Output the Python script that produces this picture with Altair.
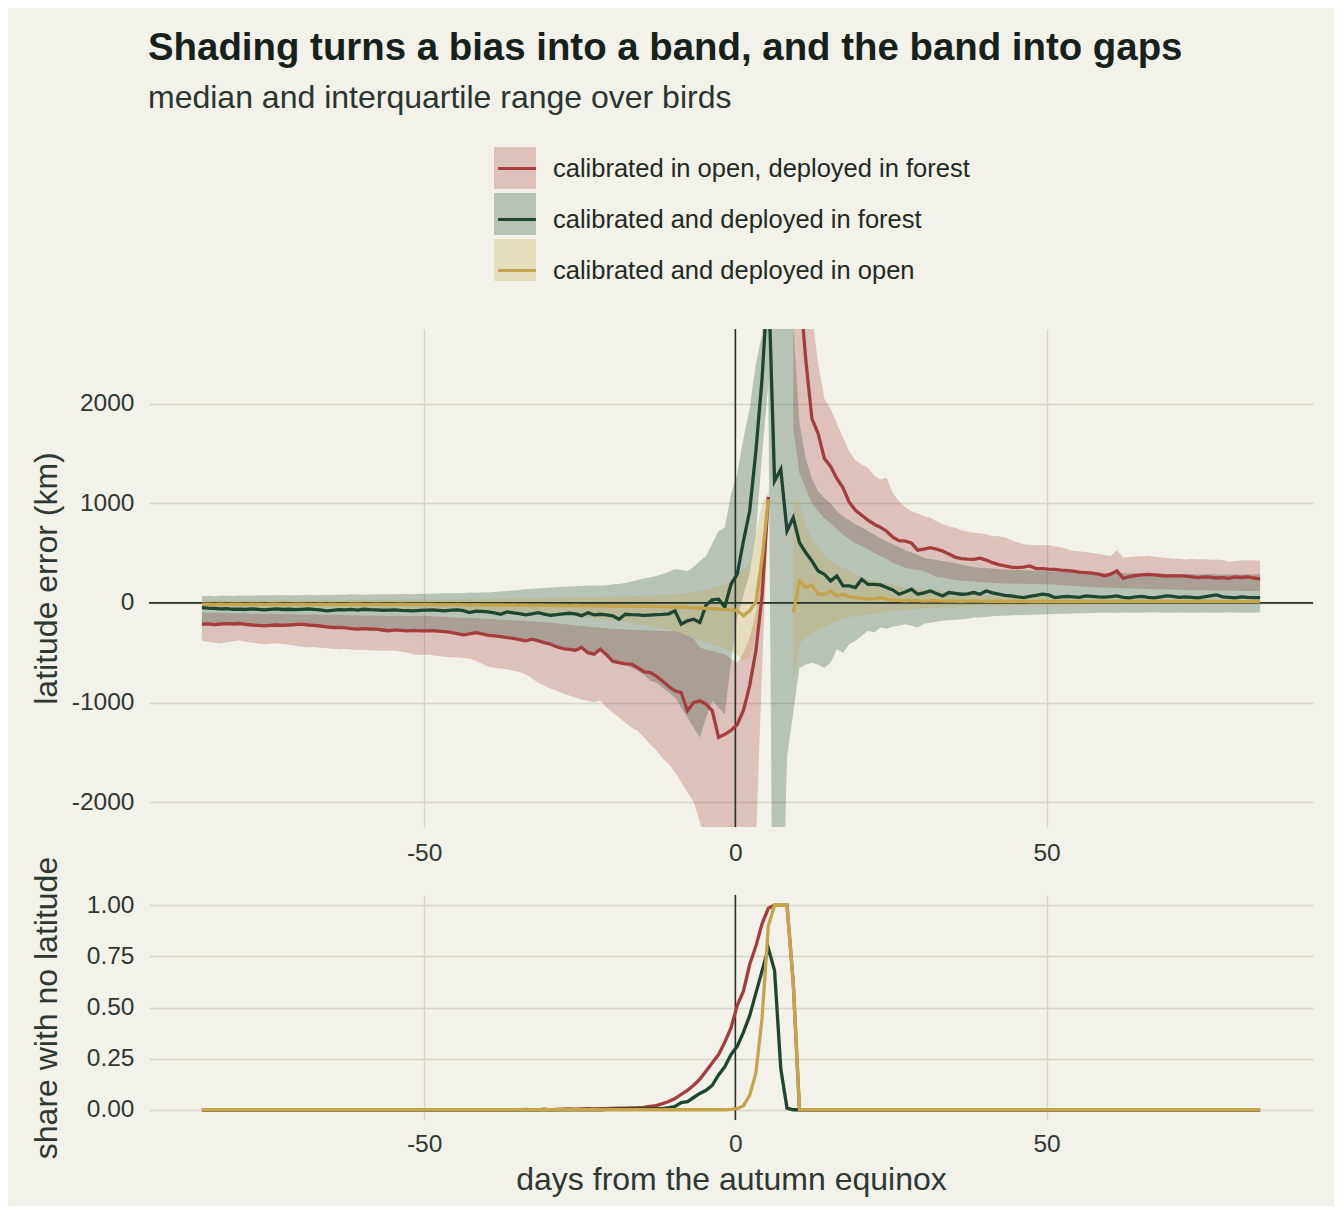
import altair as alt
import pandas as pd

# daily fixes, in whole days from the autumn equinox; the equinox itself
# falls 0.3 days before the fix of day 0
days = list(range(-86, 85))
EQUINOX_OFFSET = 0.3

SERIES = [
    "calibrated in open, deployed in forest",
    "calibrated and deployed in forest",
    "calibrated and deployed in open",
]
COLORS = ["#A63D3D", "#1E4530", "#C4A54A"]

# latitude error (km): median and quartiles over birds, one row = 10 days
red_med = [
    -214, -210, -218, -212, -208, -212, -207, -215, -222, -226,
    -230, -225, -222, -226, -222, -218, -214, -222, -226, -232,
    -240, -247, -245, -250, -258, -264, -258, -262, -264, -272,
    -281, -270, -275, -280, -276, -281, -281, -278, -284, -288,
    -296, -308, -321, -310, -298, -312, -325, -331, -338, -348,
    -356, -368, -381, -365, -380, -398, -415, -440, -458, -466,
    -475, -448, -500, -515, -465, -520, -585, -600, -612, -615,
    -650, -690, -700, -735, -785, -840, -883, -900, -1083, -1000,
    -983, -1017, -1083, -1350, -1320, -1280, -1220, -1080, -830, -480,
    80, 1065, None, None, None, 4200, 3200, 2450, 1850, 1700,
    1450, 1370, 1250, 1156, 1010, 930, 880, 830, 790, 760,
    720, 660, 625, 621, 600, 530, 540, 554, 540, 521,
    490, 460, 445, 440, 437, 450, 430, 404, 385, 371,
    360, 354, 360, 371, 345, 345, 340, 337, 330, 325,
    318, 310, 304, 298, 290, 271, 288, 321, 247, 265,
    275, 281, 287, 281, 275, 270, 272, 271, 268, 262,
    254, 262, 258, 250, 254, 247, 260, 255, 261, 250,
    242,
]
red_hi = [
    -97, -100, -98, -102, -100, -104, -105, -103, -108, -110,
    -112, -110, -108, -112, -110, -114, -116, -118, -115, -118,
    -120, -122, -120, -124, -126, -125, -128, -126, -128, -130,
    -132, -128, -130, -133, -130, -130, -131, -135, -138, -140,
    -143, -148, -152, -150, -152, -158, -162, -164, -168, -172,
    -175, -178, -182, -186, -190, -195, -197, -205, -212, -220,
    -226, -232, -238, -244, -250, -255, -264, -262, -266, -270,
    -272, -275, -278, -280, -282, -285, -281, -300, -330, -360,
    -448, -470, -480, -500, -515, -560, -600, -500, -350, -100,
    400, 1150, None, None, None, 6000, 5000, 3600, 2900, 2400,
    2050, 1950, 1800, 1657, 1520, 1430, 1390, 1356, 1280, 1240,
    1256, 1100, 1020, 960, 920, 900, 870, 855, 820, 790,
    770, 755, 730, 715, 705, 700, 690, 671, 668, 660,
    630, 610, 588, 585, 582, 580, 581, 570, 555, 540,
    521, 515, 510, 504, 490, 480, 471, 528, 454, 460,
    465, 468, 471, 465, 455, 450, 445, 440, 437, 440,
    436, 438, 432, 437, 430, 414, 420, 428, 425, 428,
    420,
]
red_lo = [
    -381, -390, -400, -408, -395, -385, -375, -390, -400, -405,
    -415, -410, -405, -412, -420, -430, -440, -448, -444, -450,
    -455, -460, -465, -462, -468, -472, -470, -475, -478, -480,
    -481, -478, -490, -500, -515, -522, -520, -525, -532, -540,
    -545, -548, -552, -560, -580, -610, -642, -650, -658, -665,
    -680, -695, -716, -760, -800, -833, -860, -883, -910, -930,
    -950, -970, -983, -1000, -980, -1050, -1100, -1150, -1200, -1250,
    -1284, -1350, -1420, -1480, -1560, -1618, -1700, -1800, -1900, -2000,
    -2200, -2400, -2600, -2800, -3000, -3000, -3000, -2800, -2600, -2400,
    -650, 950, None, None, None, 1750, 1300, 1150, 1000, 920,
    850, 800, 740, 688, 640, 600, 570, 540, 500, 470,
    440, 400, 380, 354, 340, 330, 321, 290, 260, 254,
    240, 230, 222, 220, 215, 210, 204, 200, 198, 196,
    195, 193, 192, 190, 189, 188, 187, 185, 180, 175,
    170, 166, 162, 158, 155, 154, 152, 150, 148, 146,
    144, 142, 140, 138, 136, 135, 134, 132, 130, 128,
    127, 126, 125, 124, 123, 122, 121, 120, 120, 120,
    120,
]
green_med = [
    -47, -52, -55, -60, -58, -64, -62, -66, -60, -64,
    -70, -64, -60, -66, -64, -68, -64, -60, -66, -70,
    -80, -74, -68, -70, -66, -72, -64, -68, -70, -74,
    -72, -70, -75, -78, -80, -76, -72, -70, -75, -80,
    -72, -70, -78, -97, -82, -85, -90, -100, -114, -90,
    -100, -108, -120, -110, -98, -112, -124, -118, -110, -104,
    -110, -128, -98, -120, -114, -120, -130, -164, -114, -118,
    -120, -125, -122, -118, -115, -110, -80, -214, -180, -164,
    -197, -20, 30, 37, -40, 187, 288, 622, 923, 1525,
    2260, 3300, 1224, 1341, 722, 856, 605, 505, 421, 321,
    288, 221, 271, 171, 171, 154, 237, 187, 187, 180,
    154, 130, 87, 110, 137, 87, 100, 120, 95, 70,
    104, 95, 87, 90, 104, 87, 120, 100, 87, 75,
    70, 60, 54, 65, 75, 87, 80, 54, 60, 65,
    60, 55, 70, 65, 60, 58, 62, 70, 55, 50,
    60, 65, 55, 50, 60, 70, 65, 55, 60, 55,
    50, 60, 70, 80, 60, 55, 50, 60, 55, 53,
    53,
]
green_hi = [
    70, 72, 68, 74, 72, 70, 75, 73, 72, 76,
    74, 78, 76, 80, 78, 76, 80, 82, 78, 80,
    82, 80, 84, 82, 86, 84, 82, 85, 88, 86,
    88, 86, 90, 88, 87, 92, 90, 94, 92, 96,
    98, 96, 100, 104, 102, 106, 104, 110, 115, 120,
    125, 130, 137, 140, 145, 150, 155, 160, 162, 165,
    168, 170, 172, 175, 171, 178, 187, 190, 200, 215,
    230, 245, 254, 270, 290, 310, 338, 330, 321, 360,
    421, 470, 600, 720, 756, 1090, 1300, 1650, 1950, 2400,
    2700, 4500, 4500, 4500, 3500, 2800, 1800, 1450, 1250, 1122,
    1050, 1000, 920, 870, 830, 788, 760, 720, 688, 650,
    620, 588, 560, 530, 505, 480, 454, 440, 430, 421,
    410, 400, 385, 370, 360, 354, 350, 345, 340, 335,
    332, 330, 328, 325, 322, 320, 318, 316, 314, 312,
    310, 308, 306, 305, 304, 302, 300, 300, 298, 297,
    296, 295, 294, 293, 292, 291, 290, 290, 289, 290,
    288, 287, 290, 288, 286, 288, 287, 285, 288, 287,
    287,
]
green_lo = [
    -225, -222, -228, -224, -220, -224, -218, -226, -232, -236,
    -240, -236, -232, -236, -232, -228, -226, -232, -236, -242,
    -250, -256, -255, -260, -268, -274, -268, -272, -274, -282,
    -290, -282, -285, -290, -286, -290, -292, -288, -294, -298,
    -306, -318, -330, -320, -310, -322, -335, -340, -348, -358,
    -366, -378, -390, -378, -392, -408, -425, -450, -468, -476,
    -485, -460, -510, -525, -478, -515, -560, -590, -620, -650,
    -680, -720, -782, -800, -850, -900, -950, -1050, -1150, -1250,
    -1351, -1150, -983, -1050, -1117, -600, -150, 80, 300, 700,
    1500, 2200, -6000, -4000, -1550, -1100, -650, -620, -600, -620,
    -650, -600, -465, -500, -415, -380, -330, -280, -297, -247,
    -260, -240, -230, -214, -230, -247, -210, -197, -190, -180,
    -175, -170, -164, -160, -147, -147, -140, -135, -130, -128,
    -125, -122, -120, -118, -116, -114, -114, -112, -110, -108,
    -106, -105, -104, -102, -100, -98, -100, -98, -97, -96,
    -98, -96, -97, -95, -96, -97, -98, -96, -97, -98,
    -96, -97, -99, -96, -97, -95, -97, -98, -96, -97,
    -97,
]
yel_med = [
    -13, -12, -14, -13, -15, -12, -13, -14, -12, -13,
    -14, -13, -12, -15, -14, -13, -12, -14, -15, -13,
    -14, -13, -15, -14, -12, -13, -15, -14, -13, -16,
    -14, -15, -13, -16, -15, -14, -16, -15, -17, -16,
    -18, -16, -17, -19, -18, -20, -19, -21, -20, -22,
    -21, -23, -22, -24, -23, -25, -24, -26, -25, -27,
    -26, -28, -27, -29, -30, -28, -31, -33, -30, -32,
    -34, -33, -36, -35, -38, -40, -42, -40, -45, -50,
    -53, -55, -58, -62, -67, -70, -75, -130, -80, 10,
    450, 1040, None, None, None, -97, 220, 154, 180, 87,
    87, 120, 70, 87, 60, 53, 45, 37, 40, 53,
    35, 30, 25, 20, 25, 22, 18, 20, 22, 18,
    20, 18, 16, 18, 20, 17, 15, 16, 18, 15,
    14, 16, 15, 13, 15, 14, 16, 13, 14, 15,
    13, 14, 15, 13, 12, 14, 13, 15, 14, 12,
    13, 14, 12, 13, 15, 14, 13, 12, 14, 13,
    12, 14, 13, 15, 13, 12, 14, 13, 12, 13,
    13,
]
yel_hi = [
    20, 22, 21, 23, 20, 22, 24, 22, 21, 23,
    24, 22, 23, 25, 24, 23, 25, 26, 24, 25,
    26, 25, 27, 26, 28, 27, 26, 28, 29, 28,
    30, 29, 31, 30, 32, 31, 33, 32, 34, 33,
    35, 34, 36, 38, 37, 39, 40, 41, 40, 42,
    44, 43, 45, 47, 46, 48, 50, 49, 52, 54,
    55, 57, 56, 59, 60, 62, 64, 66, 65, 68,
    70, 72, 75, 78, 80, 85, 90, 95, 100, 110,
    120, 135, 150, 170, 190, 230, 300, 330, 400, 700,
    1000, 1100, None, None, None, 1000, 1022, 788, 650, 554,
    480, 421, 380, 354, 320, 287, 260, 240, 220, 205,
    195, 187, 170, 154, 145, 140, 135, 130, 125, 120,
    115, 110, 105, 100, 95, 87, 85, 80, 78, 75,
    72, 70, 68, 66, 64, 62, 60, 58, 56, 55,
    54, 52, 50, 50, 48, 47, 46, 45, 44, 44,
    43, 42, 42, 41, 40, 40, 40, 39, 39, 38,
    38, 38, 37, 37, 37, 36, 36, 36, 36, 35,
    35,
]
yel_lo = [
    -45, -48, -46, -50, -47, -49, -48, -50, -52, -49,
    -51, -50, -53, -52, -54, -51, -53, -55, -54, -56,
    -55, -57, -56, -58, -60, -59, -61, -60, -62, -64,
    -63, -65, -64, -66, -68, -67, -70, -69, -72, -74,
    -75, -77, -76, -79, -81, -83, -85, -87, -90, -93,
    -95, -98, -100, -104, -108, -112, -116, -120, -125, -130,
    -135, -140, -146, -152, -158, -165, -172, -180, -190, -200,
    -210, -220, -232, -245, -258, -272, -290, -310, -330, -355,
    -380, -400, -420, -440, -460, -490, -520, -580, -550, -300,
    150, 1000, None, None, None, -848, -414, -347, -300, -270,
    -247, -215, -180, -165, -150, -130, -125, -118, -114, -105,
    -95, -80, -75, -70, -63, -60, -55, -50, -46, -40,
    -38, -36, -34, -32, -30, -29, -28, -27, -26, -25,
    -24, -23, -22, -22, -21, -20, -20, -19, -19, -18,
    -18, -17, -17, -16, -16, -15, -15, -15, -14, -14,
    -14, -13, -13, -13, -12, -12, -12, -12, -11, -11,
    -11, -11, -10, -10, -10, -10, -10, -10, -10, -10,
    -10,
]

# share of birds with no latitude that day
red_na = [
    0, 0, 0, 0, 0, 0, 0, 0, 0, 0,
    0, 0, 0, 0, 0, 0, 0, 0, 0, 0,
    0, 0, 0, 0, 0, 0, 0, 0, 0, 0,
    0, 0, 0, 0, 0, 0, 0, 0, 0, 0,
    0, 0, 0, 0, 0, 0, 0, 0, 0, 0,
    0, 0, 0.002, 0, 0, 0.003, 0, 0.002, 0.003, 0.004,
    0.003, 0.004, 0.005, 0.004, 0.005, 0.006, 0.007, 0.008, 0.008, 0.009,
    0.01, 0.012, 0.016, 0.02, 0.03, 0.04, 0.055, 0.075, 0.095, 0.12,
    0.15, 0.19, 0.23, 0.27, 0.33, 0.40, 0.51, 0.58, 0.71, 0.80,
    0.91, 0.985, 1.0, 1.0, 1.0, 0.62, 0, 0, 0, 0,
    0, 0, 0, 0, 0, 0, 0, 0, 0, 0,
    0, 0, 0, 0, 0, 0, 0, 0, 0, 0,
    0, 0, 0, 0, 0, 0, 0, 0, 0, 0,
    0, 0, 0, 0, 0, 0, 0, 0, 0, 0,
    0, 0, 0, 0, 0, 0, 0, 0, 0, 0,
    0, 0, 0, 0, 0, 0, 0, 0, 0, 0,
    0, 0, 0, 0, 0, 0, 0, 0, 0, 0,
    0,
]
green_na = [
    0, 0, 0, 0, 0, 0, 0, 0, 0, 0,
    0, 0, 0, 0, 0, 0, 0, 0, 0, 0,
    0, 0, 0, 0, 0, 0, 0, 0, 0, 0,
    0, 0, 0, 0, 0, 0, 0, 0, 0, 0,
    0, 0, 0, 0, 0, 0, 0, 0, 0, 0,
    0, 0, 0, 0, 0, 0, 0, 0, 0, 0,
    0, 0, 0, 0, 0, 0.002, 0.003, 0.003, 0.004, 0.004,
    0.004, 0.004, 0.005, 0.005, 0.005, 0.01, 0.016, 0.035, 0.04, 0.06,
    0.08, 0.095, 0.12, 0.17, 0.21, 0.27, 0.31, 0.38, 0.46, 0.57,
    0.68, 0.79, 0.68, 0.2, 0.008, 0, 0, 0, 0, 0,
    0, 0, 0, 0, 0, 0, 0, 0, 0, 0,
    0, 0, 0, 0, 0, 0, 0, 0, 0, 0,
    0, 0, 0, 0, 0, 0, 0, 0, 0, 0,
    0, 0, 0, 0, 0, 0, 0, 0, 0, 0,
    0, 0, 0, 0, 0, 0, 0, 0, 0, 0,
    0, 0, 0, 0, 0, 0, 0, 0, 0, 0,
    0, 0, 0, 0, 0, 0, 0, 0, 0, 0,
    0,
]
yel_na = [
    0, 0, 0, 0, 0, 0, 0, 0, 0, 0,
    0, 0, 0, 0, 0, 0, 0, 0, 0, 0,
    0, 0, 0, 0, 0, 0, 0, 0, 0, 0,
    0, 0, 0, 0, 0, 0, 0, 0, 0, 0,
    0, 0, 0, 0, 0, 0, 0, 0, 0, 0,
    0, 0, 0, 0, 0, 0, 0, 0, 0, 0,
    0, 0, 0, 0, 0, 0, 0, 0, 0, 0,
    0, 0, 0, 0, 0, 0, 0, 0, 0, 0,
    0, 0, 0, 0, 0, 0.002, 0.005, 0.02, 0.07, 0.18,
    0.45, 0.9, 1.0, 1.0, 1.0, 0.62, 0, 0, 0, 0,
    0, 0, 0, 0, 0, 0, 0, 0, 0, 0,
    0, 0, 0, 0, 0, 0, 0, 0, 0, 0,
    0, 0, 0, 0, 0, 0, 0, 0, 0, 0,
    0, 0, 0, 0, 0, 0, 0, 0, 0, 0,
    0, 0, 0, 0, 0, 0, 0, 0, 0, 0,
    0, 0, 0, 0, 0, 0, 0, 0, 0, 0,
    0, 0, 0, 0, 0, 0, 0, 0, 0, 0,
    0,
]

FONT = "Liberation Sans"
BG = "#F2F1EA"
INK = "#1F2A23"
GRID = "#D8D6C4"
ZERO = "#26342B"
LINE_W = 3.3

# build the long table; a gap in the median starts a new path segment
frames = []
columns = zip(SERIES,
              [red_lo, green_lo, yel_lo],
              [red_med, green_med, yel_med],
              [red_hi, green_hi, yel_hi],
              [red_na, green_na, yel_na])
for name, lo, med, hi, na in columns:
    for arr in (lo, med, hi, na):
        assert len(arr) == len(days), (name, len(arr))
    df = pd.DataFrame({
        "day": [d + EQUINOX_OFFSET for d in days],
        "lo": lo, "med": med, "hi": hi, "na": na,
    })
    df["series"] = name
    df["seg"] = df["med"].isna().cumsum()
    frames.append(df)
data = pd.concat(frames, ignore_index=True)
top_df = data.dropna(subset=["med"])[["day", "lo", "med", "hi", "series", "seg"]]
bottom_df = data[["day", "na", "series"]]
zero_df = pd.DataFrame({"v": [0]})

X_SCALE = alt.Scale(domain=[-94.2, 92.8], nice=False, zero=False)
TOP_SCALE = alt.Scale(domain=[-2250, 2750], nice=False, zero=False)
BOTTOM_SCALE = alt.Scale(domain=[-0.05, 1.05], nice=False, zero=False)
COLOR_SCALE = alt.Scale(domain=SERIES, range=COLORS)


def x_top(field):
    return alt.X(field, type="quantitative", scale=X_SCALE,
                 axis=alt.Axis(values=[-50, 0, 50], labelExpr="datum.value + ''",
                               title=None, labelPadding=14))


def x_bottom(field):
    return alt.X(field, type="quantitative", scale=X_SCALE,
                 axis=alt.Axis(values=[-50, 0, 50], labelExpr="datum.value + ''",
                               title="days from the autumn equinox",
                               titlePadding=9, labelPadding=12))


def y_top(field):
    return alt.Y(field, type="quantitative", scale=TOP_SCALE,
                 axis=alt.Axis(values=[-2000, -1000, 0, 1000, 2000],
                               labelExpr="datum.value + ''",
                               title="latitude error (km)", titleX=-93,
                               titleBaseline="alphabetic", labelPadding=15))


def y_bottom(field):
    return alt.Y(field, type="quantitative", scale=BOTTOM_SCALE,
                 axis=alt.Axis(values=[0, 0.25, 0.5, 0.75, 1], format=".2f",
                               title="share with no latitude", titleX=-93,
                               titleBaseline="alphabetic", labelPadding=15))


# two legends drawn on the same spot: shaded squares below, median strokes on top
band_legend = alt.Legend(
    title=None, orient="none", legendX=345, legendY=-182, direction="vertical",
    symbolType="square", symbolSize=1764, symbolOpacity=0.27, symbolStrokeWidth=0,
    padding=0, rowPadding=4, labelExpr="''",
)
line_legend = alt.Legend(
    title=None, orient="none", legendX=345, legendY=-183.5, direction="vertical",
    symbolType="M-1,-1M-0.9,0L0.9,0M1,1", symbolSize=1764, symbolStrokeWidth=3.2,
    padding=0, rowPadding=-9.5, labelOffset=13, labelLimit=800,
    labelFont=FONT, labelFontSize=25.5, labelColor=INK,
)

# top panel: interquartile bands, zero lines, medians
bands = alt.Chart(top_df).mark_area(opacity=0.27, clip=True).encode(
    x=x_top("day"),
    y=y_top("lo"),
    y2="hi:Q",
    color=alt.Color("series:N", scale=COLOR_SCALE, legend=band_legend),
    detail="seg:N",
)
hline = alt.Chart(zero_df).mark_rule(color=ZERO, strokeWidth=1.6).encode(y=y_top("v"))
vline = alt.Chart(zero_df).mark_rule(color=ZERO, strokeWidth=1.6).encode(x=x_top("v"))

top_lines = []
for i, name in enumerate(SERIES):
    top_lines.append(
        alt.Chart(top_df).transform_filter(
            alt.FieldEqualPredicate(field="series", equal=name)
        ).mark_line(strokeWidth=LINE_W, clip=True).encode(
            x=x_top("day"),
            y=y_top("med"),
            color=alt.Color("series:N", scale=COLOR_SCALE,
                            legend=line_legend if i == 0 else None),
            detail="seg:N",
        )
    )

top = alt.layer(bands, hline, vline, *top_lines).resolve_legend(
    color="independent"
).properties(width=1164, height=498)

# bottom panel: share of birds without a latitude
vline_b = alt.Chart(zero_df).mark_rule(color=ZERO, strokeWidth=1.6).encode(x=x_bottom("v"))
bottom_lines = []
for name in SERIES:
    bottom_lines.append(
        alt.Chart(bottom_df).transform_filter(
            alt.FieldEqualPredicate(field="series", equal=name)
        ).mark_line(strokeWidth=LINE_W).encode(
            x=x_bottom("day"),
            y=y_bottom("na"),
            color=alt.Color("series:N", scale=COLOR_SCALE, legend=None),
        )
    )
bottom = alt.layer(vline_b, *bottom_lines).properties(width=1164, height=225)

chart = alt.vconcat(top, bottom, spacing=68, bounds="flush").resolve_scale(
    x="independent", y="independent"
).properties(
    title=alt.Title(
        "Shading turns a bias into a band, and the band into gaps",
        subtitle="median and interquartile range over birds",
        anchor="start", dx=118, offset=31,
        font=FONT, fontSize=38.4, fontWeight="bold", color="#17211B",
        subtitleFont=FONT, subtitleFontSize=32, subtitleColor="#2A3530",
        subtitlePadding=14,
    ),
    background=BG,
    padding={"left": 21, "top": 21, "right": 20, "bottom": 10},
).configure_view(
    stroke=None
).configure_axis(
    labelFont=FONT, labelFontSize=24.5, labelColor="#2E3832",
    titleFont=FONT, titleFontSize=32, titleFontWeight="normal", titleColor="#2E3832",
    gridColor=GRID, gridWidth=1.4, domain=False, ticks=False, tickSize=0,
)

chart.save("out.html", embed_options={"renderer": "svg", "actions": False})
